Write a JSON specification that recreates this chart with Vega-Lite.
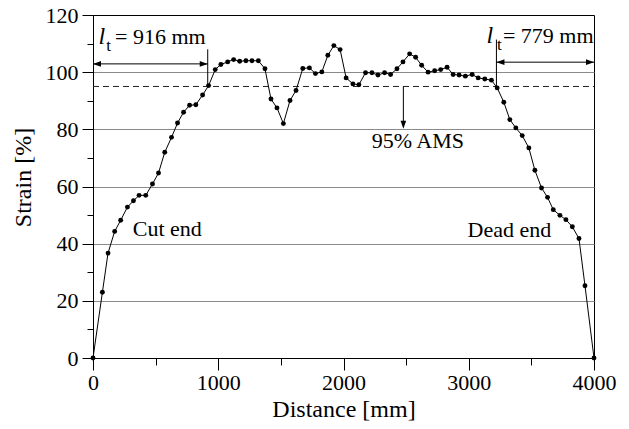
{
  "$schema": "https://vega.github.io/schema/vega-lite/v6.json",
  "autosize": "none",
  "width": 501,
  "height": 343,
  "padding": {"left": 93, "top": 15, "right": 35, "bottom": 71},
  "background": "white",
  "config": {
    "font": "Liberation Serif",
    "view": {"stroke": "black", "strokeWidth": 1},
    "axis": {"labelFont": "Liberation Serif", "titleFont": "Liberation Serif", "labelColor": "black", "titleColor": "black", "domainColor": "black", "tickColor": "black", "titleFontWeight": "normal"}
  },
  "datasets": {
    "strain": [
      {"x": 0, "y": 0}, {"x": 75, "y": 23.0}, {"x": 120, "y": 36.7}, {"x": 173, "y": 44.3}, {"x": 221, "y": 48.2},
      {"x": 275, "y": 52.8}, {"x": 323, "y": 55.0}, {"x": 368, "y": 56.9}, {"x": 421, "y": 56.9}, {"x": 475, "y": 60.9},
      {"x": 523, "y": 64.7}, {"x": 573, "y": 72.0}, {"x": 627, "y": 77.2}, {"x": 675, "y": 82.2}, {"x": 723, "y": 86.0},
      {"x": 771, "y": 88.4}, {"x": 821, "y": 88.6}, {"x": 875, "y": 92.0}, {"x": 923, "y": 95.3}, {"x": 976, "y": 100.9},
      {"x": 1021, "y": 102.7}, {"x": 1075, "y": 103.6}, {"x": 1123, "y": 104.4}, {"x": 1171, "y": 103.8}, {"x": 1221, "y": 104.0},
      {"x": 1269, "y": 104.0}, {"x": 1320, "y": 104.0}, {"x": 1373, "y": 101.2}, {"x": 1421, "y": 90.6}, {"x": 1469, "y": 87.5},
      {"x": 1520, "y": 82.0}, {"x": 1573, "y": 90.1}, {"x": 1621, "y": 93.6}, {"x": 1675, "y": 101.3}, {"x": 1728, "y": 101.5},
      {"x": 1776, "y": 99.5}, {"x": 1827, "y": 100.1}, {"x": 1875, "y": 105.9}, {"x": 1923, "y": 109.3}, {"x": 1973, "y": 107.9},
      {"x": 2021, "y": 98.0}, {"x": 2075, "y": 95.9}, {"x": 2123, "y": 95.6}, {"x": 2176, "y": 99.8}, {"x": 2227, "y": 99.8},
      {"x": 2275, "y": 99.0}, {"x": 2328, "y": 99.8}, {"x": 2376, "y": 99.2}, {"x": 2427, "y": 101.2}, {"x": 2475, "y": 103.6},
      {"x": 2528, "y": 106.4}, {"x": 2576, "y": 105.2}, {"x": 2624, "y": 102.4}, {"x": 2675, "y": 100.0}, {"x": 2728, "y": 100.5},
      {"x": 2776, "y": 100.9}, {"x": 2827, "y": 101.7}, {"x": 2875, "y": 99.2}, {"x": 2923, "y": 99.0}, {"x": 2973, "y": 98.6},
      {"x": 3027, "y": 99.2}, {"x": 3075, "y": 98.0}, {"x": 3128, "y": 97.6}, {"x": 3181, "y": 97.2}, {"x": 3227, "y": 94.5},
      {"x": 3280, "y": 89.5}, {"x": 3328, "y": 83.4}, {"x": 3376, "y": 80.5}, {"x": 3427, "y": 77.8}, {"x": 3480, "y": 73.5},
      {"x": 3528, "y": 65.7}, {"x": 3581, "y": 59.5}, {"x": 3629, "y": 56.2}, {"x": 3675, "y": 51.9}, {"x": 3728, "y": 49.9},
      {"x": 3776, "y": 48.4}, {"x": 3827, "y": 45.9}, {"x": 3880, "y": 41.8}, {"x": 3928, "y": 25.3}, {"x": 4000, "y": 0}
    ]
  },
  "encoding": {
    "x": {
      "field": "x", "type": "quantitative",
      "scale": {"domain": [0, 4000], "nice": false, "zero": false},
      "axis": {
        "title": "Distance [mm]", "titleFontSize": 24, "titlePadding": 4,
        "values": [0, 500, 1000, 1500, 2000, 2500, 3000, 3500, 4000],
        "labelExpr": "datum.value % 1000 == 0 ? datum.label : ''",
        "format": "d", "labelFontSize": 22, "labelPadding": 2,
        "tickSize": {"condition": {"test": "datum.value % 1000 == 0", "value": 12}, "value": 7},
        "grid": false, "labelFlush": false, "labelOverlap": false
      }
    },
    "y": {
      "field": "y", "type": "quantitative",
      "scale": {"domain": [0, 120], "nice": false},
      "axis": {
        "title": "Strain [%]", "titleFontSize": 24, "titlePadding": 10, "titleY": 162,
        "values": [0, 10, 20, 30, 40, 50, 60, 70, 80, 90, 100, 110, 120],
        "labelExpr": "datum.value % 20 == 0 ? datum.label : ''",
        "labelFontSize": 22, "labelPadding": 4, "labelFlush": false, "labelOverlap": false,
        "tickSize": {"condition": {"test": "datum.value % 20 == 0", "value": 11}, "value": 6},
        "grid": true, "gridColor": "#8a8a8a", "gridWidth": 1,
        "gridOpacity": {"condition": {"test": "datum.value % 20 == 0 && datum.value > 0 && datum.value < 120", "value": 1}, "value": 0}
      }
    }
  },
  "layer": [
    {
      "data": {"values": [{"x": 0, "x2": 4000, "y": 95}]},
      "mark": {"type": "rule", "color": "#222", "strokeWidth": 1, "strokeDash": [6, 4]},
      "encoding": {"x2": {"field": "x2"}}
    },
    {
      "data": {"name": "strain"},
      "mark": {"type": "line", "color": "black", "strokeWidth": 1}
    },
    {
      "data": {"name": "strain"},
      "mark": {"type": "circle", "color": "black", "size": 24, "opacity": 1}
    },
    {
      "data": {"values": [
        {"x": 0, "y": 102.9, "x2": 916, "y2": 102.9},
        {"x": 916, "y": 95.3, "x2": 916, "y2": 108},
        {"x": 3221, "y": 103.5, "x2": 4000, "y2": 103.5},
        {"x": 3221, "y": 94.5, "x2": 3221, "y2": 111.4},
        {"x": 2478, "y": 95, "x2": 2478, "y2": 82}
      ]},
      "mark": {"type": "rule", "color": "black", "strokeWidth": 1},
      "encoding": {"x2": {"field": "x2"}, "y2": {"field": "y2"}}
    },
    {
      "data": {"values": [{"x": 916, "y": 102.9}, {"x": 4000, "y": 103.5}]},
      "mark": {"type": "point", "shape": "M0,0L-1,-0.35L-1,0.35Z", "size": 256, "filled": true, "color": "black", "opacity": 1}
    },
    {
      "data": {"values": [{"x": 0, "y": 102.9}, {"x": 3221, "y": 103.5}]},
      "mark": {"type": "point", "shape": "M0,0L1,-0.35L1,0.35Z", "size": 256, "filled": true, "color": "black", "opacity": 1}
    },
    {
      "data": {"values": [{"x": 2478, "y": 80.2}]},
      "mark": {"type": "point", "shape": "M0,0L-0.35,-1L0.35,-1Z", "size": 256, "filled": true, "color": "black", "opacity": 1}
    },
    {
      "data": {"values": [
        {"x": 176, "y": 109.9, "label": "= 916 mm"},
        {"x": 3273, "y": 110.2, "label": "= 779 mm"},
        {"x": 2225, "y": 73.5, "label": "95% AMS"},
        {"x": 317, "y": 42.8, "label": "Cut end"},
        {"x": 2991, "y": 42.5, "label": "Dead end"}
      ]},
      "mark": {"type": "text", "align": "left", "baseline": "alphabetic", "fontSize": 22, "color": "black", "font": "Liberation Serif"},
      "encoding": {"text": {"field": "label"}}
    },
    {
      "data": {"values": [{"x": 44, "y": 109.9, "label": "l"}, {"x": 3142, "y": 110.2, "label": "l"}]},
      "mark": {"type": "text", "align": "left", "baseline": "alphabetic", "fontSize": 24, "fontStyle": "italic", "color": "black", "font": "Liberation Serif"},
      "encoding": {"text": {"field": "label"}}
    },
    {
      "data": {"values": [{"x": 106, "y": 107.4, "label": "t"}, {"x": 3226, "y": 107.7, "label": "t"}]},
      "mark": {"type": "text", "align": "left", "baseline": "alphabetic", "fontSize": 17, "color": "black", "font": "Liberation Serif"},
      "encoding": {"text": {"field": "label"}}
    }
  ]
}
